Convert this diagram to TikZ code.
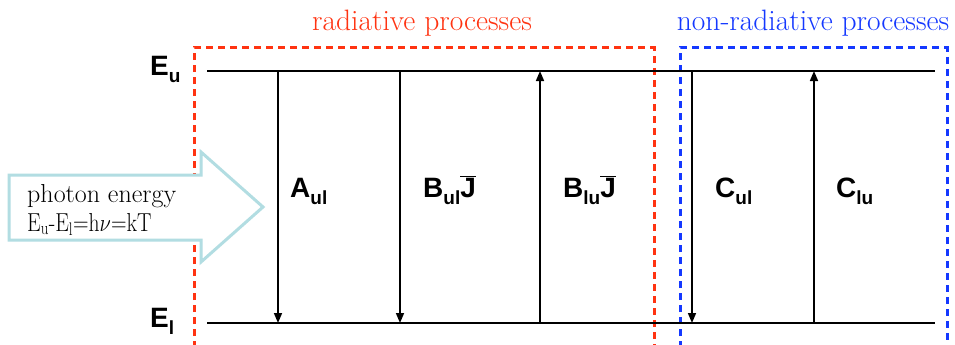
\documentclass[tikz,border=0pt]{standalone}
\usepackage{fontspec}
\usetikzlibrary{arrows.meta}
\newfontfamily\labfont{Liberation Sans}
\definecolor{radred}{HTML}{FF3311}
\definecolor{nrblue}{HTML}{1438FF}
\definecolor{photcyan}{HTML}{B2DDE2}
\newcommand\lsub[1]{\raisebox{-7pt}{\fontsize{19}{19}\selectfont #1}}
\newcommand\jbar{$\overline{\mbox{\labfont\bfseries J}}$}
\tikzset{
  lvl/.style={line width=2pt, black},
  trans/.style={line width=1.6pt, black, -{Triangle[length=10pt,width=8pt]}},
  lab/.style={font=\labfont\bfseries\fontsize{28}{30}\selectfont, inner sep=0pt, anchor=base west},
  ttl/.style={font=\fontsize{29.5}{32}\selectfont, inner sep=0pt, anchor=base},
  phot/.style={font=\fontsize{26}{30}\selectfont, inner sep=0pt, anchor=base west},
  boxr/.style={radred, line width=3pt, dash pattern=on 7pt off 5pt},
  boxb/.style={nrblue, line width=3pt, dash pattern=on 7pt off 5pt},
}
\begin{document}
\begin{tikzpicture}[x=1pt,y=-1pt]
\useasboundingbox (0,0) rectangle (955,345);
\clip (0,0) rectangle (955,345);
\fill[white] (0,0) rectangle (955,345);
% process boxes
\coordinate (r0) at (194,360); \coordinate (r1) at (194,48);
\coordinate (r2) at (654,48);  \coordinate (r3) at (654,360);
\draw[boxr] (r0) -- (r1) -- (r2) -- (r3);
\coordinate (b0) at (680,360); \coordinate (b1) at (680,48);
\coordinate (b2) at (947,48);  \coordinate (b3) at (947,360);
\draw[boxb] (b0) -- (b1) -- (b2) -- (b3);
\node[ttl, text=radred] (tr) at (422,31) {radiative processes};
\node[ttl, text=nrblue] (tn) at (813,31) {non-radiative processes};
% photon arrow
\draw[photcyan, line width=3pt, fill=white, line join=miter]
  (9,175) -- (201,175) -- (201,152) -- (263,207) -- (201,262) -- (201,240) -- (9,240) -- cycle;
\node[phot] (pe1) at (27,202) {photon energy};
\node[phot] (pe2) at (27,231) {\scalebox{0.83}[1]{E\textsubscript{u}-E\textsubscript{l}=h$\nu$=kT}};
% levels
\coordinate (u0) at (207,71); \coordinate (u1) at (935,71);
\coordinate (l0) at (207,323); \coordinate (l1) at (935,323);
\draw[lvl] (u0) -- (u1);
\draw[lvl] (l0) -- (l1);
\node[lab] (Eu) at (150,75) {E\lsub{u}};
\node[lab] (El) at (150,327) {E\lsub{l}};
% transitions
\foreach \n/\x in {A/278,Bd/400,Bu/540,Cd/692,Cu/814}{
  \coordinate (\n t) at (\x,71);
  \coordinate (\n b) at (\x,323);
}
\draw[trans] (At) -- (Ab);
\draw[trans] (Bdt) -- (Bdb);
\draw[trans] (Bub) -- (But);
\draw[trans] (Cdt) -- (Cdb);
\draw[trans] (Cub) -- (Cut);
\node[lab] (lA) at (290,197) {A\lsub{ul}};
\node[lab] (lBd) at (423,197) {B\lsub{ul}\jbar};
\node[lab] (lBu) at (563,197) {B\lsub{lu}\jbar};
\node[lab] (lCd) at (715,197) {C\lsub{ul}};
\node[lab] (lCu) at (836,197) {C\lsub{lu}};
\end{tikzpicture}
\end{document}
